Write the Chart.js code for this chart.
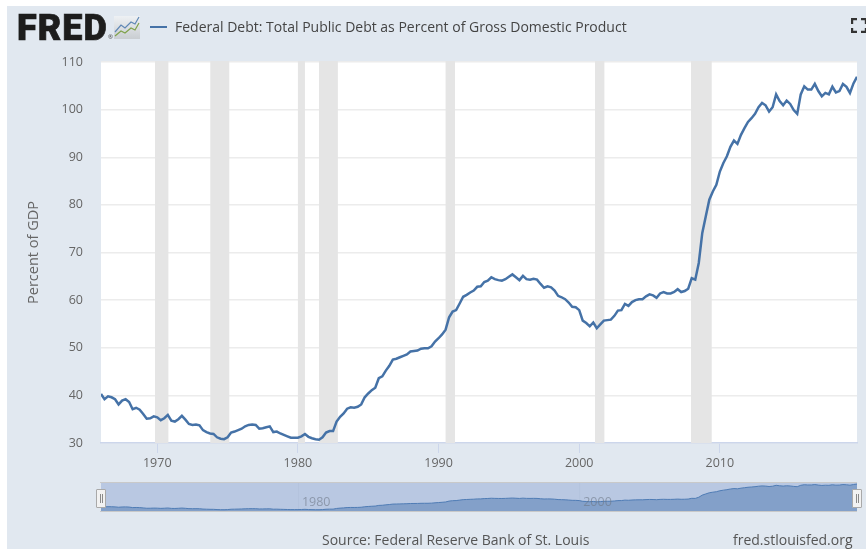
<!DOCTYPE html>
<html>
<head>
<meta charset="utf-8">
<script src="https://cdn.jsdelivr.net/npm/chart.js@4"></script>
<style>
html,body{margin:0;padding:0;background:#fff;width:866px;height:550px;overflow:hidden}
#panel{position:absolute;left:7px;top:6px;width:859px;height:543px;background:#e1e8f0}
canvas{position:absolute;display:block;filter:blur(.45px)}
.t{position:absolute;white-space:nowrap;font-family:"Open Sans",sans-serif;filter:blur(.35px)}
#logo{left:17px;top:7px;font-family:Roboto,sans-serif;font-weight:900;font-size:36px;line-height:42px;color:#1d1d1d;letter-spacing:1.1px;-webkit-text-stroke:.7px #1d1d1d}
#reg{left:108px;top:33px;font-size:6px;color:#444}
#legendLine{position:absolute;left:150px;top:26px;width:17px;height:2px;background:#4572a7}
#legendText{left:175px;top:17px;font-size:14px;line-height:20px;color:#444}
#source{left:322px;top:530px;font-size:14px;line-height:20px;color:#555}
#site{left:733px;top:530px;font-size:14px;line-height:20px;color:#555}
.handle{position:absolute;top:489px;width:8px;height:17px;background:#f2f2f2;border:1px solid #a9a9a9;border-radius:1px}
.handle:before,.handle:after{content:"";position:absolute;top:4px;height:9px;width:1px;background:#8a8a8a}
.handle:before{left:2.5px}.handle:after{left:5px}
</style>
</head>
<body>
<div id="panel"></div>
<canvas id="main" width="866" height="550" style="left:0;top:0"></canvas>
<canvas id="nav" width="757" height="30" style="left:100px;top:482px"></canvas>
<div class="t" id="logo">FRED</div>
<div class="t" id="reg">®</div>
<svg style="position:absolute;left:114px;top:15px" width="27" height="25">
<defs><linearGradient id="g" x1="0" y1="0" x2="0" y2="1"><stop offset="0" stop-color="#eef1f4"/><stop offset="1" stop-color="#c9cdd1"/></linearGradient></defs>
<rect x="0" y="1" width="26" height="23" fill="url(#g)"/>
<polyline points="1,17 7,10 11,13 17,7 21,9 25,2" fill="none" stroke="#5f87b5" stroke-width="1.2"/>
<polyline points="1,21 7,16 11,18 17,13 21,15 25,8" fill="none" stroke="#7fa24a" stroke-width="1.2"/>
</svg>
<div id="legendLine"></div>
<div class="t" id="legendText">Federal Debt: Total Public Debt as Percent of Gross Domestic Product</div>
<svg style="position:absolute;left:851px;top:18px" width="15" height="15">
<path d="M1 6V1H6M10 1H15V6M1 10V14H6M10 14H15V10" fill="none" stroke="#333" stroke-width="2.4"/>
</svg>
<div class="t" id="source">Source: Federal Reserve Bank of St. Louis</div>
<div class="t" id="site">fred.stlouisfed.org</div>
<div class="handle" style="left:96px"></div>
<div class="handle" style="left:852px"></div>
<script>
const seriesName = "Federal Debt: Total Public Debt as Percent of Gross Domestic Product";
const firstYear = 1966;
const lastYear = 2019.75;
const debtPercent = [
40.3,39.2,39.8,39.6, 39.2,38.1,38.9,39.2, 38.6,37.1,37.4,37.0, 36.1,35.1,35.2,35.6,
35.4,34.8,35.2,35.9, 34.7,34.5,35.0,35.7, 34.9,34.0,33.8,33.9, 33.7,32.7,32.3,32.0,
31.9,31.2,30.9,30.8, 31.2,32.2,32.4,32.7, 33.0,33.5,33.8,33.9, 33.8,33.0,33.1,33.3,
33.5,32.3,32.4,32.0, 31.7,31.4,31.1,31.1, 31.1,31.4,31.9,31.3, 31.0,30.8,30.7,31.2,
32.2,32.5,32.5,34.5, 35.5,36.2,37.2,37.5, 37.4,37.6,38.1,39.6, 40.4,41.1,41.6,43.6,
44.0,45.2,46.2,47.5, 47.7,48.0,48.3,48.6, 49.2,49.3,49.4,49.8, 49.9,49.9,50.3,51.3,
52.0,52.8,53.8,56.4, 57.6,57.9,59.3,60.7, 61.1,61.6,62.0,62.8, 62.9,63.8,64.1,64.8,
64.4,64.2,64.1,64.4, 64.9,65.4,64.8,64.2, 65.1,64.4,64.3,64.5, 64.3,63.4,62.6,62.9,
62.7,62.0,60.9,60.6, 60.2,59.5,58.6,58.5, 57.9,55.7,55.2,54.5, 55.3,54.1,54.9,55.7,
55.8,55.9,56.7,57.8, 57.9,59.2,58.8,59.6, 60.0,60.2,60.2,60.8, 61.2,61.0,60.5,61.4,
61.7,61.4,61.4,61.7, 62.3,61.7,61.9,62.4, 64.6,64.3,67.8,74.1, 77.6,81.1,82.8,84.2,
87.0,88.8,90.2,92.2, 93.5,92.8,94.7,96.1, 97.4,98.2,99.1,100.5, 101.4,100.9,99.6,100.5,
103.2,101.8,100.9,101.9, 101.2,99.9,99.1,103.2, 104.9,104.2,104.2,105.4, 103.9,102.8,103.5,103.2,
104.8,103.6,103.9,105.4, 104.8,103.5,105.5,106.9
];
const recessionStarts = [1969.84,1973.77,1980.0,1981.5,1990.5,2001.12,2007.95];
const recessionEnds   = [1970.79,1975.12,1980.5,1982.84,1991.17,2001.79,2009.42];
const xTicks = [1970,1980,1990,2000,2010];
const yMin = 30, yMax = 110, yStep = 10;
const navTicks = [1980,2000];
const yTitle = "Percent of GDP";

const points = debtPercent.map((v,i)=>({x:firstYear+i/4,y:v}));
const font = {family:'"Open Sans", sans-serif',size:12.5};

const plotBg = {id:'plotBg',beforeDraw(c){
  const a=c.chartArea,x=c.ctx;
  x.save();x.fillStyle='#fff';x.fillRect(a.left,a.top-1,a.right-a.left,a.bottom-a.top+1);x.restore();
}};
const recessions = {id:'recessions',beforeDatasetsDraw(c){
  const a=c.chartArea,x=c.ctx,s=c.scales.x;
  x.save();x.fillStyle='#e5e5e5';
  recessionStarts.forEach((b,i)=>{
    const l=s.getPixelForValue(b),r=s.getPixelForValue(recessionEnds[i]);
    x.fillRect(l,a.top-1,r-l,a.bottom-a.top+1);
  });
  x.restore();
}};

new Chart(document.getElementById('main'),{
  type:'line',
  data:{datasets:[{label:seriesName,data:points,borderColor:'#4572a7',borderWidth:2.5,pointRadius:0,tension:0,fill:false}]},
  plugins:[plotBg,recessions],
  options:{
    responsive:false,animation:false,
    layout:{padding:{left:0,right:9,top:62,bottom:0}},
    plugins:{legend:{display:false},tooltip:{enabled:false}},
    scales:{
      x:{type:'linear',min:firstYear,max:lastYear,
        afterFit(s){s.height=107;},
        afterBuildTicks(s){s.ticks=xTicks.map(v=>({value:v}));},
        grid:{drawOnChartArea:false,color:'#ccd6eb',tickLength:10,lineWidth:1},
        border:{display:true,color:'#ccd6eb',width:1.5},
        ticks:{autoSkip:false,maxRotation:0,color:'#666',font,padding:3,callback:v=>String(v)}
      },
      y:{type:'linear',min:yMin,max:yMax,
        afterFit(s){s.width=101;},
        grid:{color:'#ececec',lineWidth:1.5,drawTicks:false},
        border:{display:false},
        ticks:{stepSize:yStep,color:'#666',font,padding:18},
        title:{display:true,text:yTitle,color:'#666',font:{family:font.family,size:14.5},padding:{top:25,bottom:0}}
      }
    }
  }
});

const navLabels = {id:'navLabels',afterDraw(c){
  const x=c.ctx,s=c.scales.x;
  x.save();x.font='12.5px "Open Sans", sans-serif';x.fillStyle='rgba(110,120,135,.6)';x.textBaseline='middle';
  navTicks.forEach(v=>x.fillText(String(v),s.getPixelForValue(v)+4,20));
  x.restore();
}};
const navFrame = {id:'navFrame',beforeDraw(c){
  const a=c.chartArea,x=c.ctx;
  x.save();x.fillStyle='#b9c8e2';x.fillRect(a.left,a.top,a.right-a.left,a.bottom-a.top);
  x.fillStyle='rgba(70,90,120,.035)';
  navTicks.forEach(v=>x.fillRect(c.scales.x.getPixelForValue(v),a.top,1,a.bottom-a.top));
  x.restore();
},afterDraw(c){
  const x=c.ctx,w=c.width,h=c.height;
  x.save();x.fillStyle='#c9c9c9';x.fillRect(0,0,w,1);x.fillRect(0,h-1,w,1);x.restore();
}};
new Chart(document.getElementById('nav'),{
  type:'line',
  data:{datasets:[{data:points,borderColor:'#4f7cb5',borderWidth:1,backgroundColor:'#83a0c9',pointRadius:0,tension:0,fill:'origin'}]},
  plugins:[navFrame,navLabels],
  options:{
    responsive:false,animation:false,
    layout:{padding:{left:1,right:0,top:0,bottom:0}},
    plugins:{legend:{display:false},tooltip:{enabled:false}},
    scales:{
      x:{type:'linear',display:false,min:firstYear,max:lastYear},
      y:{type:'linear',display:false,min:24,max:113}
    }
  }
});
</script>
</body>
</html>
